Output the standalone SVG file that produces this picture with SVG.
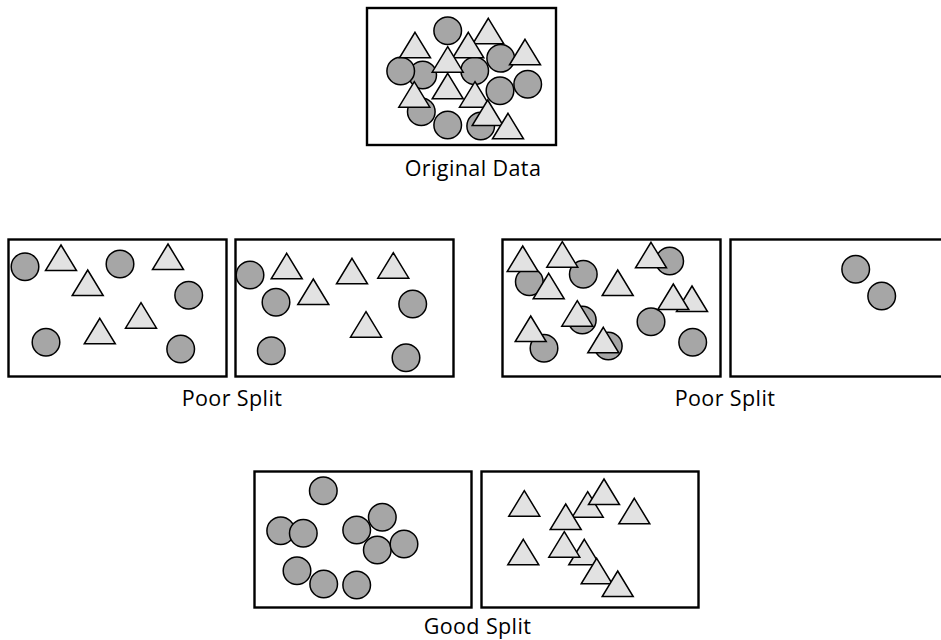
<svg xmlns="http://www.w3.org/2000/svg" width="941" height="640" viewBox="0 0 941 640">
<style>
.box{fill:#fff;stroke:#000;stroke-width:2.4}
.c{fill:#a6a6a6;stroke:#000;stroke-width:1.5}
.t{fill:#e2e2e2;stroke:#000;stroke-width:1.5;stroke-linejoin:miter}
.lbl{font-family:"Open Sans","Noto Sans",sans-serif;font-size:21.5px;letter-spacing:0.4px;fill:#000;text-anchor:middle}
</style>
<defs>
<path id="t" class="t" d="M0,0 L15.5,25.5 L-15.5,25.5 Z"/>
<circle id="c" class="c" r="13.8"/>
</defs>
<rect width="941" height="640" fill="#fff"/>

<g id="original">
<rect class="box" x="367" y="8" width="189" height="137"/>
<use href="#c" x="422.7" y="75"/>
<use href="#c" x="400.7" y="71"/>
<use href="#c" x="447.7" y="30.7"/>
<use href="#c" x="474.7" y="70.7"/>
<use href="#c" x="500.7" y="58.3"/>
<use href="#c" x="500" y="90.7"/>
<use href="#c" x="527.7" y="84.3"/>
<use href="#c" x="421.3" y="111.7"/>
<use href="#c" x="447.7" y="125"/>
<use href="#c" x="480.7" y="126"/>
<use href="#t" x="415" y="32.3"/>
<use href="#t" x="488.3" y="18.3"/>
<use href="#t" x="468.3" y="32.3"/>
<use href="#t" x="525" y="39.3"/>
<use href="#t" x="447.7" y="46.7"/>
<use href="#t" x="447.7" y="73.3"/>
<use href="#t" x="414.3" y="81.7"/>
<use href="#t" x="475" y="81.7"/>
<use href="#t" x="487.7" y="100"/>
<use href="#t" x="508" y="113.3"/>
<text class="lbl" x="473" y="176">Original Data</text>
</g>

<g id="poor1-left">
<rect class="box" x="8.5" y="239.5" width="218" height="137"/>
<use href="#c" x="25" y="266.7"/>
<use href="#c" x="120" y="264"/>
<use href="#c" x="188.7" y="295.3"/>
<use href="#c" x="46" y="342.3"/>
<use href="#c" x="180.7" y="349"/>
<use href="#t" x="61" y="245"/>
<use href="#t" x="87.7" y="270"/>
<use href="#t" x="168" y="244"/>
<use href="#t" x="141" y="302.7"/>
<use href="#t" x="99.8" y="318.3"/>
</g>

<g id="poor1-right">
<rect class="box" x="235.5" y="239.5" width="218" height="137"/>
<use href="#c" x="250" y="275"/>
<use href="#c" x="276" y="302.3"/>
<use href="#c" x="412.7" y="304"/>
<use href="#c" x="271.3" y="350.7"/>
<use href="#c" x="406" y="357.7"/>
<use href="#t" x="286.7" y="253.3"/>
<use href="#t" x="313.3" y="279"/>
<use href="#t" x="352" y="258.3"/>
<use href="#t" x="393.3" y="252.7"/>
<use href="#t" x="366" y="311.7"/>
</g>
<text class="lbl" x="232" y="406">Poor Split</text>

<g id="poor2-left">
<rect class="box" x="502.5" y="239.5" width="218" height="137"/>
<use href="#c" x="529.3" y="281.7"/>
<use href="#c" x="583.3" y="274.3"/>
<use href="#c" x="669.7" y="261"/>
<use href="#c" x="582.3" y="320"/>
<use href="#c" x="651" y="321.7"/>
<use href="#c" x="544" y="348.3"/>
<use href="#c" x="608.3" y="346"/>
<use href="#c" x="692.7" y="342.3"/>
<use href="#t" x="522.7" y="246"/>
<use href="#t" x="562.3" y="241.7"/>
<use href="#t" x="548.7" y="273.3"/>
<use href="#t" x="617.7" y="270"/>
<use href="#t" x="651" y="242.3"/>
<use href="#t" x="692" y="286"/>
<use href="#t" x="673.3" y="284"/>
<use href="#t" x="577.3" y="300.7"/>
<use href="#t" x="530.7" y="316"/>
<use href="#t" x="603.3" y="327.3"/>
</g>

<g id="poor2-right">
<rect class="box" x="730.5" y="239.5" width="218" height="137"/>
<use href="#c" x="855.7" y="269.3"/>
<use href="#c" x="881.7" y="296"/>
</g>
<text class="lbl" x="725" y="406">Poor Split</text>

<g id="good-left">
<rect class="box" x="254.5" y="471.5" width="217" height="136"/>
<use href="#c" x="323.3" y="490.7"/>
<use href="#c" x="280.7" y="530.7"/>
<use href="#c" x="303.3" y="533.3"/>
<use href="#c" x="356.7" y="530"/>
<use href="#c" x="382.3" y="517.3"/>
<use href="#c" x="377.3" y="550"/>
<use href="#c" x="404" y="544"/>
<use href="#c" x="297" y="570.7"/>
<use href="#c" x="323.7" y="584"/>
<use href="#c" x="356.7" y="585"/>
</g>

<g id="good-right">
<rect class="box" x="481.5" y="471.5" width="217" height="136"/>
<use href="#t" x="524.3" y="490.7"/>
<use href="#t" x="587.7" y="491.7"/>
<use href="#t" x="604" y="479"/>
<use href="#t" x="565.7" y="504"/>
<use href="#t" x="634.3" y="498.3"/>
<use href="#t" x="523.3" y="539.3"/>
<use href="#t" x="584.3" y="539.3"/>
<use href="#t" x="564.3" y="531.7"/>
<use href="#t" x="596.7" y="558.3"/>
<use href="#t" x="617.7" y="571"/>
</g>
<text class="lbl" x="477.5" y="634">Good Split</text>
</svg>
